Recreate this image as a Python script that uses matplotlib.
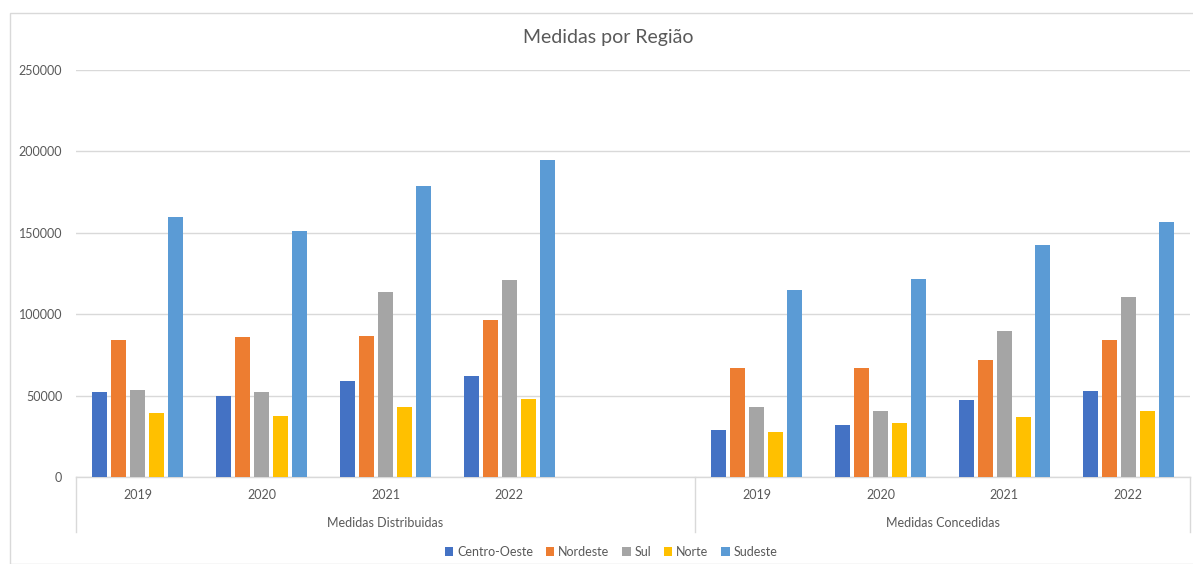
import matplotlib
matplotlib.use("Agg")
import matplotlib.pyplot as plt
import matplotlib.transforms as mtransforms
from matplotlib.patches import Rectangle, Patch
import numpy as np

plt.rcParams['font.family'] = ['Lato', 'DejaVu Sans']

title = "Medidas por Região"
regions = ["Centro-Oeste", "Nordeste", "Sul", "Norte", "Sudeste"]
colors = ["#4472C4", "#ED7D31", "#A5A5A5", "#FFC000", "#5B9BD5"]
groups = ["Medidas Distribuidas", "Medidas Concedidas"]
years_dist = ["2019", "2020", "2021", "2022", ""]
years_conc = ["2019", "2020", "2021", "2022"]

# values per region, per year (2019..2022)
dist_centro_oeste = [52500, 49800, 59000, 62300]
dist_nordeste = [84200, 85900, 86900, 96300]
dist_sul = [53400, 52400, 113900, 120900]
dist_norte = [39500, 37700, 42800, 47900]
dist_sudeste = [159400, 151400, 178500, 194500]

conc_centro_oeste = [28900, 32000, 47300, 53000]
conc_nordeste = [66800, 66800, 71900, 84000]
conc_sul = [43200, 40500, 89700, 110500]
conc_norte = [27800, 33000, 37000, 40500]
conc_sudeste = [115100, 121900, 142600, 156600]

dist = [dist_centro_oeste, dist_nordeste, dist_sul, dist_norte, dist_sudeste]
conc = [conc_centro_oeste, conc_nordeste, conc_sul, conc_norte, conc_sudeste]

W, H = 1193, 564
fig = plt.figure(figsize=(W / 100, H / 100), dpi=100)
fig.patch.set_facecolor("white")

# outer chart border
fig.patches.append(Rectangle((9.5 / W, 0), 2, 1 - 12.5 / H, transform=fig.transFigure,
                             fill=False, edgecolor="#D9D9D9", linewidth=1.0))

ax = fig.add_axes([76 / W, 1 - 477 / H, (1190 - 76) / W, (477 - 70) / H])

labels = years_dist + years_conc
n_slots = len(labels)
pos_dist = np.arange(len(years_dist) - 1)
pos_conc = np.arange(len(years_conc)) + len(years_dist)

pitch = 19 / 124
bw = 15 / 124
for i, (name, c) in enumerate(zip(regions, colors)):
    off = (i - 2) * pitch
    ax.bar(pos_dist + off, dist[i], width=bw, color=c, label=name, zorder=3)
    ax.bar(pos_conc + off, conc[i], width=bw, color=c, zorder=3)

ax.set_xlim(-0.5, n_slots - 0.5)
ax.set_ylim(0, 250000)
ax.set_yticks(np.arange(0, 250001, 50000))
ax.yaxis.grid(True, color="#D9D9D9", linewidth=1.0, zorder=0)
ax.set_axisbelow(True)
for s in ["top", "right", "left"]:
    ax.spines[s].set_visible(False)
ax.spines["bottom"].set_color("#D9D9D9")
ax.spines["bottom"].set_linewidth(1.0)
ax.tick_params(axis="y", length=0, pad=10, labelsize=9, labelcolor="#595959")
ax.set_xticks([])

trans = mtransforms.blended_transform_factory(ax.transData, ax.transAxes)
axh = 477 - 70
for i, lab in enumerate(labels):
    if lab:
        ax.text(i, -18 / axh, lab, transform=trans, ha="center", va="center",
                fontsize=9, color="#595959")
# group separators
for xb in [-0.5, len(years_dist) - 0.5, n_slots - 0.5]:
    ax.plot([xb, xb], [0, -55 / axh], transform=trans, color="#D9D9D9",
            linewidth=1.0, clip_on=False)
g_centers = [(-0.5 + len(years_dist) - 0.5) / 2, (len(years_dist) - 0.5 + n_slots - 0.5) / 2]
for gc, g in zip(g_centers, groups):
    ax.text(gc, -46 / axh, g, transform=trans, ha="center", va="center",
            fontsize=9, color="#595959")

fig.text(608 / W, 1 - 38 / H, title, ha="center", va="center", fontsize=14, color="#595959")

handles = [Patch(facecolor=c, edgecolor="none") for c in colors]
fig.legend(handles, regions, loc="center", bbox_to_anchor=(611 / W, 1 - 552 / H), ncol=5,
           frameon=False, fontsize=9, labelcolor="#595959", handlelength=0.7, handleheight=0.7,
           handletextpad=0.3, columnspacing=1.0)

fig.savefig("out.png", dpi=100, facecolor="white")
